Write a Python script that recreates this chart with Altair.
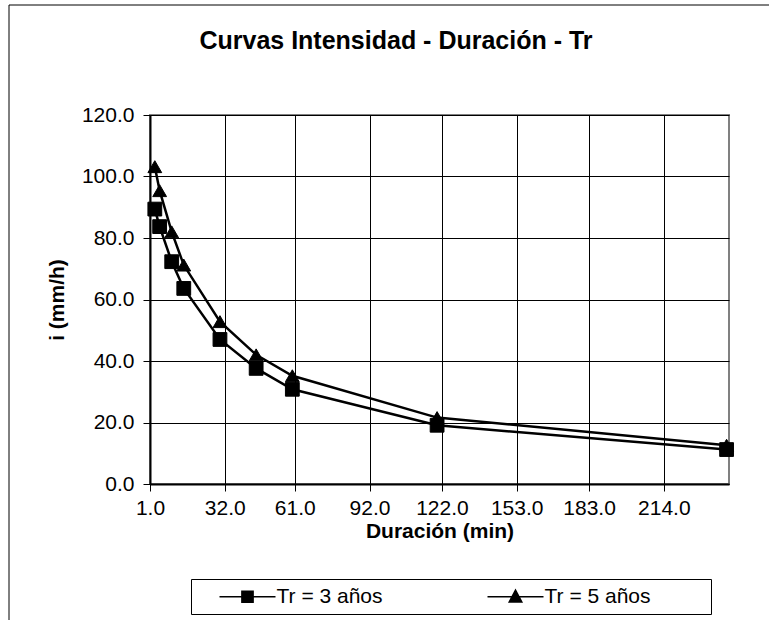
import altair as alt
import pandas as pd

# ---- data ----
durations = [3, 5, 10, 15, 30, 45, 60, 120, 240]
tr3 = [89.4, 83.7, 72.3, 63.6, 47.0, 37.6, 30.8, 19.1, 11.2]
tr5 = [103.2, 95.4, 82.0, 71.2, 52.8, 42.0, 35.2, 21.6, 12.6]
series_names = ["Tr = 3 años", "Tr = 5 años"]
x_ticks = [1, 32, 61, 92, 122, 153, 183, 214]
y_ticks = [0, 20, 40, 60, 80, 100, 120]

rows = []
for d, v in zip(durations, tr3):
    rows.append({"dur": d, "i": v, "serie": series_names[0]})
for d, v in zip(durations, tr5):
    rows.append({"dur": d, "i": v, "serie": series_names[1]})
df = pd.DataFrame(rows)

FONT = "Liberation Sans"

x_enc = alt.X("dur:Q", title="Duración (min)",
              scale=alt.Scale(domain=[1, 241], nice=False, zero=False),
              axis=alt.Axis(values=x_ticks, format=".1f", labelFlush=False))
y_enc = alt.Y("i:Q", title="i (mm/h)",
              scale=alt.Scale(domain=[0, 120], nice=False),
              axis=alt.Axis(values=y_ticks, format=".1f"))

base = alt.Chart(df)

lines = base.mark_line(color="black", strokeWidth=2.5).encode(
    x=x_enc, y=y_enc, detail="serie:N")

points = base.mark_point(filled=True, fill="black", stroke="black",
                         strokeWidth=1, opacity=1, size=190).encode(
    x=x_enc, y=y_enc,
    shape=alt.Shape("serie:N",
                    scale=alt.Scale(domain=series_names, range=["square", "triangle-up"]),
                    legend=None))

# legend-only layer (no marks drawn): custom symbols = line + marker
sq_path = "M-4,0H4M-0.8,-0.8H0.8V0.8H-0.8Z"
tri_path = "M-4,0H4M0,-0.95L0.9,0.75H-0.9Z"
pad_expr = "datum.label + '" + ("\\u00a0" * 9) + "\\u200b'"
legend_layer = base.mark_point(filled=True, fill="black", stroke="black",
                               strokeWidth=2.5, opacity=1, size=196).encode(
    x=x_enc, y=y_enc,
    shape=alt.Shape("serie:N",
                    scale=alt.Scale(domain=series_names, range=[sq_path, tri_path]),
                    legend=alt.Legend(title=None, orient="none", legendX=41, legendY=464,
                                      direction="horizontal", columns=2,
                                      columnPadding=30, padding=7,
                                      symbolSize=196, symbolOffset=39,
                                      labelOffset=18.5, labelLimit=400,
                                      labelExpr=pad_expr,
                                      labelFont=FONT, labelFontSize=21,
                                      labelColor="black",
                                      strokeColor="black", fillColor="white"))
).transform_filter("datum.dur < 0")

frame = alt.Chart(alt.Data(values=[{"a": 1}])).mark_rect(
    fill="transparent", stroke="black", strokeWidth=1).encode(
    x=alt.value(-141), x2=alt.value(700), y=alt.value(-110), y2=alt.value(600))

chart = alt.layer(frame, lines, points, legend_layer).resolve_scale(
    shape="independent"
).properties(
    width=579, height=369,
    title=alt.TitleParams("Curvas Intensidad - Duración - Tr", anchor="middle",
                          frame="group", dx=-43.5, offset=-49, font=FONT, fontSize=25,
                          fontWeight="bold", color="black"),
    autosize=alt.AutoSizeParams(type="none"),
    padding={"left": 150, "top": 115, "right": 40, "bottom": 136},
    background="white",
).configure_view(
    stroke="#808080", strokeWidth=2
).configure_axis(
    labelFont=FONT, labelFontSize=21, labelColor="black",
    titleFont=FONT, titleFontSize=21, titleFontWeight="bold", titleColor="black",
    gridColor="black", gridWidth=1, gridOpacity=1,
    domainColor="black", domainWidth=2,
    tickColor="black", tickSize=7, tickWidth=1
).configure_axisX(
    labelPadding=6, titlePadding=2
).configure_axisY(
    labelPadding=9, titlePadding=14
)

chart.save("out.html", embed_options={"renderer": "svg", "actions": False})
